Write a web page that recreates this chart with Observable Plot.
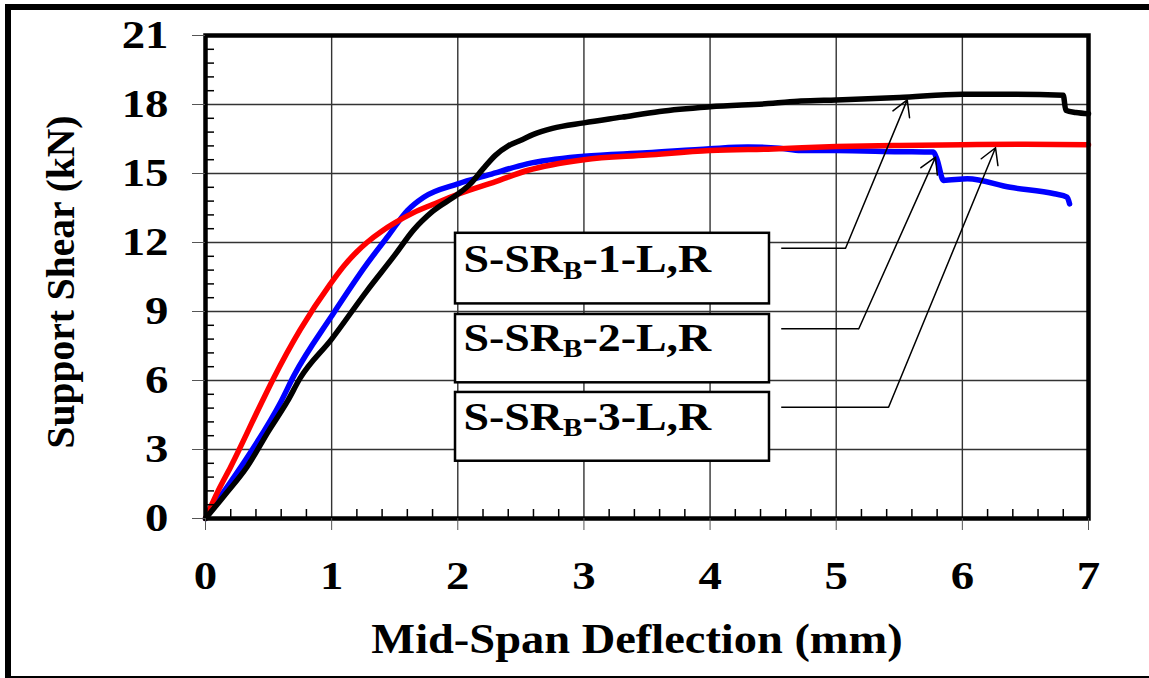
<!DOCTYPE html>
<html><head><meta charset="utf-8">
<script src="https://cdn.jsdelivr.net/npm/d3@7"></script>
<script src="https://cdn.jsdelivr.net/npm/@observablehq/plot@0.6"></script>
<style>
html,body{margin:0;padding:0;background:#fff;overflow:hidden}
#wrap{position:relative;width:1149px;height:678px;overflow:hidden}
#wrap svg{position:absolute;left:0;top:0}
#border{position:absolute;left:5px;top:4px;width:1200px;height:674px;box-sizing:border-box;border-left:6px solid #000;border-top:6px solid #000;border-bottom:2px solid #000;pointer-events:none}
</style></head><body><div id="wrap"></div>
<script>
// Specimen S-SR_B-1-L,R (black)
const s1Defl  = [0, 0.15, 0.33, 0.5, 0.65, 0.75, 1.0, 1.28, 1.5, 1.65, 1.8, 2.0, 2.1, 2.2, 2.3, 2.4, 2.5, 2.6, 2.75, 3.0, 3.3, 3.6, 4.0, 4.5, 4.72, 5.0, 5.5, 6.0, 6.4, 6.8, 6.82, 6.9, 7.0];
const s1Shear = [0, 1.0, 2.25, 3.8, 5.1, 6.1, 7.8, 9.9, 11.45, 12.55, 13.35, 14.1, 14.55, 15.2, 15.8, 16.2, 16.45, 16.7, 16.96, 17.2, 17.45, 17.7, 17.9, 18.05, 18.15, 18.2, 18.3, 18.45, 18.45, 18.4, 17.75, 17.65, 17.6];
// Specimen S-SR_B-2-L,R (blue)
const s2Defl  = [0, 0.15, 0.3, 0.6, 0.7, 1.0, 1.28, 1.45, 1.6, 1.73, 2.0, 2.25, 2.55, 3.0, 3.5, 4.0, 4.3, 4.55, 4.72, 5.0, 5.5, 5.77, 5.8, 5.85, 6.04, 6.38, 6.73, 6.83, 6.85];
const s2Shear = [0, 1.2, 2.4, 5.1, 6.2, 8.8, 11.07, 12.3, 13.39, 13.97, 14.55, 14.95, 15.42, 15.75, 15.9, 16.08, 16.15, 16.1, 16.0, 16.0, 15.95, 15.93, 15.6, 14.7, 14.77, 14.4, 14.12, 13.97, 13.68];
// Specimen S-SR_B-3-L,R (red)
const s3Defl  = [0, 0.1, 0.2, 0.45, 0.54, 0.75, 0.99, 1.1, 1.2, 1.28, 1.4, 1.5, 1.65, 1.8, 2.0, 2.3, 2.55, 3.0, 3.5, 4.0, 4.5, 5.0, 5.5, 6.0, 6.5, 7.0];
const s3Shear = [0, 1.2, 2.25, 5.1, 6.1, 8.2, 10.2, 11.0, 11.6, 12.0, 12.5, 12.85, 13.3, 13.65, 14.1, 14.65, 15.13, 15.6, 15.8, 16.0, 16.07, 16.17, 16.22, 16.25, 16.27, 16.25];

const seriesNames  = ["S-SRB-1-L,R", "S-SRB-2-L,R", "S-SRB-3-L,R"];
const seriesColors = ["#000000", "#0000ff", "#ff0000"];
const drawOrder    = [1, 2, 0]; // blue, red, black on top

// tick values
const xTicks = [0, 1, 2, 3, 4, 5, 6, 7];
const yTicks = [0, 3, 6, 9, 12, 15, 18, 21];
const xMinor = d3.range(0, 7.001, 0.2).filter(v => Math.abs(v - Math.round(v)) > 1e-6);
const yMinor = d3.range(0, 21.001, 0.6).filter(v => Math.abs(v / 3 - Math.round(v / 3)) > 1e-6);

// annotation call-outs (data coordinates)
const labelMain  = "S-SR";
const labelSub   = "B";
const labelTails = ["-1-L,R", "-2-L,R", "-3-L,R"];
const boxLeft = 1.982, boxRight = 4.471;
const boxTop    = [12.40, 8.87, 5.48];
const boxBottom = [9.33, 5.90, 2.49];
const textX = 2.045;
const textBase  = [10.71, 7.30, 3.86];
const leaderStartX = 4.564;
const leaderY   = [11.75, 8.25, 4.84];
const bendX     = [5.074, 5.179, 5.415];
const tipX      = [5.563, 5.787, 6.263];
const tipY      = [18.2, 15.71, 16.12];

const defl = [s1Defl, s2Defl, s3Defl];
const shear = [s1Shear, s2Shear, s3Shear];
const rows = [];
drawOrder.forEach(k => defl[k].forEach((x, i) => rows.push({spec: seriesNames[k], k, x, y: shear[k][i]})));

const notes = seriesNames.map((name, i) => ({
  name, x1: boxLeft, x2: boxRight, y1: boxBottom[i], y2: boxTop[i],
  tx: textX, ty: textBase[i], sx: leaderStartX, ly: leaderY[i], bx: bendX[i], px: tipX[i], py: tipY[i]
}));

const chart = Plot.plot({
  width: 1149, height: 678,
  marginLeft: 205, marginRight: 61, marginTop: 35, marginBottom: 160,
  x: {domain: [0, 7]},
  y: {domain: [0, 21]},
  style: "font-family: 'Liberation Serif', 'Times New Roman', serif; font-weight: bold; background: white; color: black; overflow: visible;",
  marks: [
    Plot.gridX(xTicks, {stroke: "#333", strokeOpacity: 1, strokeWidth: 1.4}),
    Plot.gridY(yTicks, {stroke: "#333", strokeOpacity: 1, strokeWidth: 1.4}),
    Plot.line(rows, {x: "x", y: "y", z: "spec", stroke: d => seriesColors[d.k], strokeWidth: 5.5, strokeLinejoin: "round", strokeLinecap: "round", curve: "monotone-x"}),
    Plot.rect(notes, {x1: "x1", x2: "x2", y1: "y1", y2: "y2", fill: "white", stroke: "black", strokeWidth: 2.5}),
    Plot.text(notes, {x: "tx", y: "ty", text: "name", textAnchor: "start", lineAnchor: "bottom", fontSize: 41, fill: "black"}),
    Plot.link(notes, {x1: "sx", y1: "ly", x2: "bx", y2: "ly", stroke: "black", strokeWidth: 1.5}),
    Plot.arrow(notes, {x1: "bx", y1: "ly", x2: "px", y2: "py", stroke: "black", strokeWidth: 1.5, headLength: 18, headAngle: 60}),
    Plot.frame({stroke: "black", strokeWidth: 4.5}),
    Plot.axisX(xTicks, {anchor: "bottom", tickSize: 12, tickPadding: 31, fontSize: 39, label: null, stroke: "#555", tickFormat: d => String(d)}),
    Plot.axisY(yTicks, {anchor: "left", tickSize: 13, tickPadding: 24, fontSize: 39, label: null, stroke: "#555", tickFormat: d => String(d)}),
    Plot.axisX(xMinor, {anchor: "bottom", tickSize: 9, dy: -9, tickFormat: () => "", label: null, strokeWidth: 1.5}),
    Plot.axisY(yMinor, {anchor: "left", tickSize: 9, dx: 9, tickFormat: () => "", label: null, strokeWidth: 1.5}),
    Plot.text(["Support Shear (kN)"], {frameAnchor: "left", rotate: -90, lineAnchor: "bottom", textAnchor: "middle", dx: -132, dy: 5, fontSize: 39.5, fill: "black"}),
    Plot.text(["Mid-Span Deflection (mm)"], {frameAnchor: "bottom", lineAnchor: "bottom", textAnchor: "middle", dx: -10, dy: 134, fontSize: 43, fill: "black"})
  ]
});

const wrap = document.getElementById("wrap");
wrap.appendChild(chart);
const border = document.createElement("div");
border.id = "border";
wrap.appendChild(border);

function stretch(el, k) {
  const t = el.getAttribute("transform");
  const xa = el.getAttribute("x");
  if (t && !(xa && /^-?[\d.]+$/.test(xa))) {
    el.setAttribute("transform", `${t} scale(${k},1)`);
  } else {
    const x = +xa || 0;
    const ya = el.getAttribute("y");
    const numY = ya && /^-?[\d.]+$/.test(ya);
    const y = numY ? +ya : 0;
    el.removeAttribute("x");
    if (numY) el.removeAttribute("y");
    el.setAttribute("transform", `${t || ""} translate(${x},${y}) scale(${k},1)`);
  }
}

const svg = d3.select(chart);
svg.selectAll("text").each(function () {
  const s = this.textContent;
  if (/^\d+$/.test(s)) stretch(this, 1.2);
  else if (s === "Mid-Span Deflection (mm)") stretch(this, 1.08);
  else {
    const idx = seriesNames.indexOf(s);
    if (idx >= 0) {
      const t = d3.select(this);
      t.text(null);
      t.append("tspan").text(labelMain);
      t.append("tspan").text(labelSub).attr("font-size", 26).attr("baseline-shift", -7);
      t.append("tspan").text(labelTails[idx]);
      stretch(this, 1.12);
    }
  }
});
</script></body></html>
